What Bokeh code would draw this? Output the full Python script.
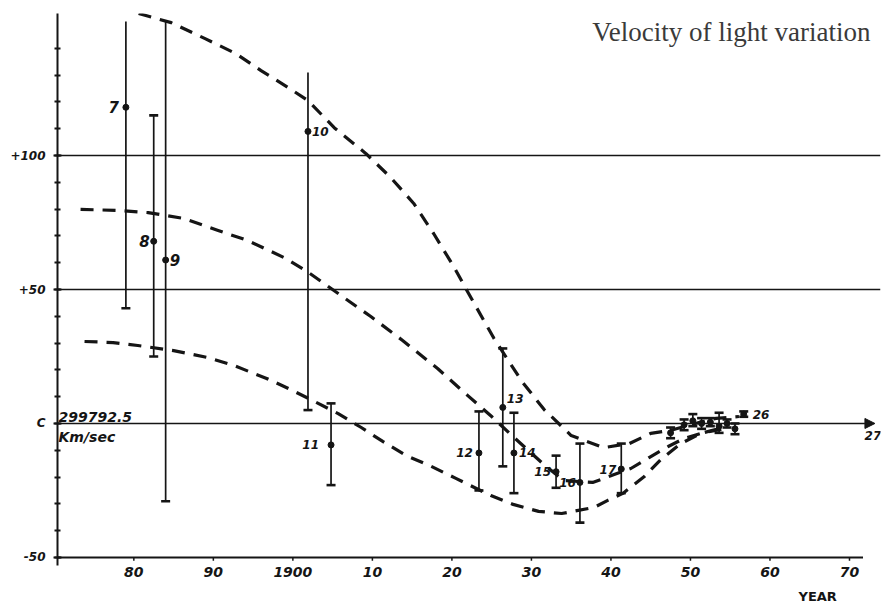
from bokeh.plotting import figure
from bokeh.models import (Range1d, FixedTicker, Span, Label, Arrow, NormalHead,
                          ColumnDataSource, LinearAxis)
from bokeh.core.properties import value
from bokeh.embed import file_html
from bokeh.resources import INLINE

# ---------------- data ----------------
pt_label = ["7", "8", "9", "10", "11", "12", "13", "14", "15", "16", "17",
            "18", "19", "20", "21", "22", "23", "24", "25", "26"]
pt_year = [1879.0, 1882.5, 1884.0, 1901.9, 1904.8, 1923.4, 1926.4, 1927.8, 1933.1, 1936.1, 1941.3,
           1947.5, 1949.2, 1950.3, 1951.4, 1952.5, 1953.6, 1954.6, 1955.6, 1956.7]
pt_value = [118, 68, 61, 109, -8, -11, 6, -11, -18, -22, -17,
            -3.5, -0.5, 1.0, 0.0, 0.5, -1.0, 0.0, -2.0, 3.5]
pt_low = [43, 25, -29, 5, -23, -25, -16, -26, -24, -37, -26,
          -5.5, -2.5, -1.0, -2.0, -1.0, -3.5, -1.5, -4.0, 2.5]
pt_high = [150, 115, 150, 131, 7.5, 4.5, 28, 4, -12, -7.5, -7.5,
           -1.5, 1.5, 3.5, 2.0, 2.0, 4.0, 1.5, 0.0, 4.5]

upper_year = [1880.6, 1884.7, 1888.9, 1892.8, 1896.0, 1899.4, 1901.9, 1905.2, 1909.2, 1912.3,
              1915.2, 1917.7, 1920.3, 1922.1, 1925.3, 1928.8, 1931.6, 1935.0, 1939.1, 1942.3,
              1945.0, 1947.5, 1950.1, 1953.2, 1956.1]
upper_value = [153.0, 149.6, 143.7, 138.1, 131.7, 125.4, 120.5, 110.4, 100.7, 91.8,
               82.1, 70.9, 58.2, 48.5, 31.7, 15.7, 5.2, -4.5, -9.0, -7.5,
               -3.7, -2.6, -0.4, 1.9, 2.6]

middle_year = [1873.3, 1878.0, 1881.8, 1886.3, 1890.6, 1894.3, 1898.9, 1901.6, 1905.7, 1909.8,
               1913.8, 1918.2, 1922.0, 1925.0, 1927.7, 1931.7, 1934.1, 1937.7, 1942.5, 1944.8,
               1947.2, 1949.2, 1951.7, 1954.5]
middle_value = [79.9, 79.5, 78.7, 76.5, 72.0, 68.3, 61.9, 57.1, 48.5, 39.9,
                31.0, 20.5, 10.4, 2.6, -4.9, -15.7, -21.3, -22.0, -16.8, -12.7,
                -8.6, -5.6, -3.4, -1.9]

lower_year = [1873.8, 1877.4, 1880.5, 1885.0, 1889.3, 1892.6, 1896.7, 1899.7, 1903.0, 1905.7,
              1908.6, 1911.3, 1914.2, 1917.4, 1920.5, 1924.9, 1927.7, 1930.9, 1933.8, 1937.9,
              1939.6, 1941.5, 1944.2, 1946.4, 1948.8, 1951.3, 1953.6]
lower_value = [30.6, 30.2, 29.1, 27.2, 24.6, 21.6, 16.8, 12.7, 7.8, 3.7,
               -1.5, -6.7, -11.9, -16.0, -20.5, -26.9, -30.2, -32.8, -33.6, -31.3,
               -28.7, -26.1, -19.8, -13.1, -7.5, -3.7, -1.9]

x_ticks = [1880, 1890, 1900, 1910, 1920, 1930, 1940, 1950, 1960, 1970]
x_tick_labels = ["80", "90", "1900", "10", "20", "30", "40", "50", "60", "70"]
y_ticks = [-50, 0, 50, 100]
y_tick_labels = ["-50", "C", "+50", "+100"]
ref_lines = [100, 50]
c_value = 0
c_note = ["299792.5", "Km/sec"]
end_label = "27"
end_year = 1973.2
title_text = "Velocity of light variation"
x_name = "YEAR"
x_name_at = 1966

# ---------------- styling ----------------
INK = "#151515"
HAND = "DejaVu Sans"
label_left_of = {"7": -7, "8": -4, "11": -12, "12": -6, "15": -5, "16": -4, "17": -5}
label_right_of = {"9": 4, "10": 4, "13": 4, "14": 5, "26": 9}
label_dy = {"13": -9}
open_top = {"7", "9", "10"}

X0, X1 = 1870.4, 1973.9
Y0, Y1 = -53, 153

p = figure(width=884, height=610, x_range=Range1d(X0, X1), y_range=Range1d(Y0, Y1),
           output_backend="svg", toolbar_location=None,
           min_border_left=57, min_border_right=4, min_border_top=13, min_border_bottom=45)
p.outline_line_color = None
p.xgrid.visible = False
p.ygrid.visible = False
p.background_fill_color = "white"

# y axis
p.yaxis.ticker = FixedTicker(ticks=y_ticks, minor_ticks=list(range(-50, 150, 10)))
p.yaxis.major_label_overrides = {t: s for t, s in zip(y_ticks, y_tick_labels)}
p.yaxis.axis_line_color = INK
p.yaxis.axis_line_width = 2
p.yaxis.major_tick_line_color = INK
p.yaxis.minor_tick_line_color = INK
p.yaxis.major_tick_line_width = 2
p.yaxis.minor_tick_line_width = 2
p.yaxis.major_tick_in = 4
p.yaxis.major_tick_out = 4
p.yaxis.minor_tick_in = 3
p.yaxis.minor_tick_out = 3
p.yaxis.major_label_standoff = 8
p.yaxis.major_label_text_font = HAND
p.yaxis.major_label_text_font_style = "bold italic"
p.yaxis.major_label_text_font_size = "12px"
p.yaxis.major_label_text_color = INK

# x axis (labels only; the -50 line is drawn as data)
p.xaxis.ticker = FixedTicker(ticks=x_ticks, minor_ticks=[])
p.xaxis.major_label_overrides = {t: s for t, s in zip(x_ticks, x_tick_labels)}
p.xaxis.axis_line_color = None
p.xaxis.major_tick_line_color = None
p.xaxis.minor_tick_line_color = None
p.xaxis.major_tick_out = 0
p.xaxis.major_tick_in = 0
p.xaxis.major_label_standoff = 1
p.xaxis.major_label_text_font = HAND
p.xaxis.major_label_text_font_style = "bold italic"
p.xaxis.major_label_text_font_size = "14px"
p.xaxis.major_label_text_color = INK

# second row under the x axis carrying the axis name
name_axis = LinearAxis(ticker=FixedTicker(ticks=[x_name_at], minor_ticks=[]),
                       major_label_overrides={x_name_at: x_name},
                       axis_line_color=None, major_tick_line_color=None,
                       minor_tick_line_color=None, major_tick_out=0, major_tick_in=0,
                       major_label_standoff=9,
                       major_label_text_font=HAND, major_label_text_font_style="bold",
                       major_label_text_font_size="13px", major_label_text_color=INK)
p.add_layout(name_axis, "below")

# horizontal reference lines
for yv in ref_lines:
    p.add_layout(Span(location=yv, dimension="width", line_color=INK, line_width=1.6))
p.line(x=[X0, x_ticks[-1] + 1.7], y=[y_ticks[0], y_ticks[0]], line_color=INK, line_width=2)
p.add_layout(Arrow(end=NormalHead(size=10, fill_color=INK, line_color=INK),
                   x_start=X0, y_start=c_value, x_end=end_year, y_end=c_value,
                   line_color=INK, line_width=1.6))
p.add_layout(Label(x=end_year, y=c_value, text=end_label, text_font=HAND,
                   text_font_style="bold italic", text_font_size="12px", text_color=INK,
                   text_align="center", text_baseline="top", x_offset=-2, y_offset=-8))

# tiny tick marks on the -50 line
p.segment(x0=x_ticks, x1=x_ticks, y0=[y_ticks[0] - 1.2] * len(x_ticks),
          y1=[y_ticks[0] + 0.2] * len(x_ticks), line_color=INK, line_width=1.5)

# dashed curves
for xs, ys in ((upper_year, upper_value), (middle_year, middle_value), (lower_year, lower_value)):
    p.line(x=xs, y=ys, line_color=INK, line_width=3.2, line_dash="13 9", line_join="round")

# error bars
src = ColumnDataSource(dict(x=pt_year, y=pt_value, lo=pt_low, hi=pt_high, label=pt_label))
p.segment(x0="x", x1="x", y0="lo", y1="hi", source=src, line_color=INK, line_width=1.7)
p.scatter(x=pt_year, y=pt_low, marker="dash", size=9, line_color=INK, line_width=2.6)
cap_x = [x for x, l in zip(pt_year, pt_label) if l not in open_top]
cap_y = [h for h, l in zip(pt_high, pt_label) if l not in open_top]
p.scatter(x=cap_x, y=cap_y, marker="dash", size=9, line_color=INK, line_width=2.6)
p.scatter(x="x", y="y", source=src, size=6, fill_color=INK, line_color=INK)

# point labels
def lab_src(d):
    keep = [i for i, l in enumerate(pt_label) if l in d]
    return ColumnDataSource(dict(
        x=[pt_year[i] for i in keep], y=[pt_value[i] for i in keep],
        t=[pt_label[i] for i in keep],
        dx=[d[pt_label[i]] for i in keep],
        dy=[label_dy.get(pt_label[i], 0) for i in keep],
        fs=["15px" if pt_label[i] in ("7", "8", "9") else "12px" for i in keep]))

p.text(x="x", y="y", text="t", source=lab_src(label_left_of), x_offset="dx", y_offset="dy",
       text_align="right", text_baseline="middle", text_font=value(HAND),
       text_font_style="bold italic", text_font_size="fs", text_color=INK)
p.text(x="x", y="y", text="t", source=lab_src(label_right_of), x_offset="dx", y_offset="dy",
       text_align="left", text_baseline="middle", text_font=value(HAND),
       text_font_style="bold italic", text_font_size="fs", text_color=INK)

# note beside C
p.add_layout(Label(x=X0, y=c_value, text=c_note[0], text_font=HAND, text_font_style="bold italic",
                   text_font_size="14px", text_color=INK, text_align="left",
                   text_baseline="bottom", x_offset=1, y_offset=1))
p.add_layout(Label(x=X0, y=c_value, text=c_note[1], text_font=HAND, text_font_style="bold italic",
                   text_font_size="14px", text_color=INK, text_align="left",
                   text_baseline="top", x_offset=1, y_offset=-6))

# title
p.add_layout(Label(x=X1, y=Y1, text=title_text, text_font="Liberation Serif",
                   text_font_size="27px", text_color="#3a3a3a", text_align="right",
                   text_baseline="top", x_offset=-10, y_offset=-3))

open("out.html", "w").write(file_html(p, INLINE))
